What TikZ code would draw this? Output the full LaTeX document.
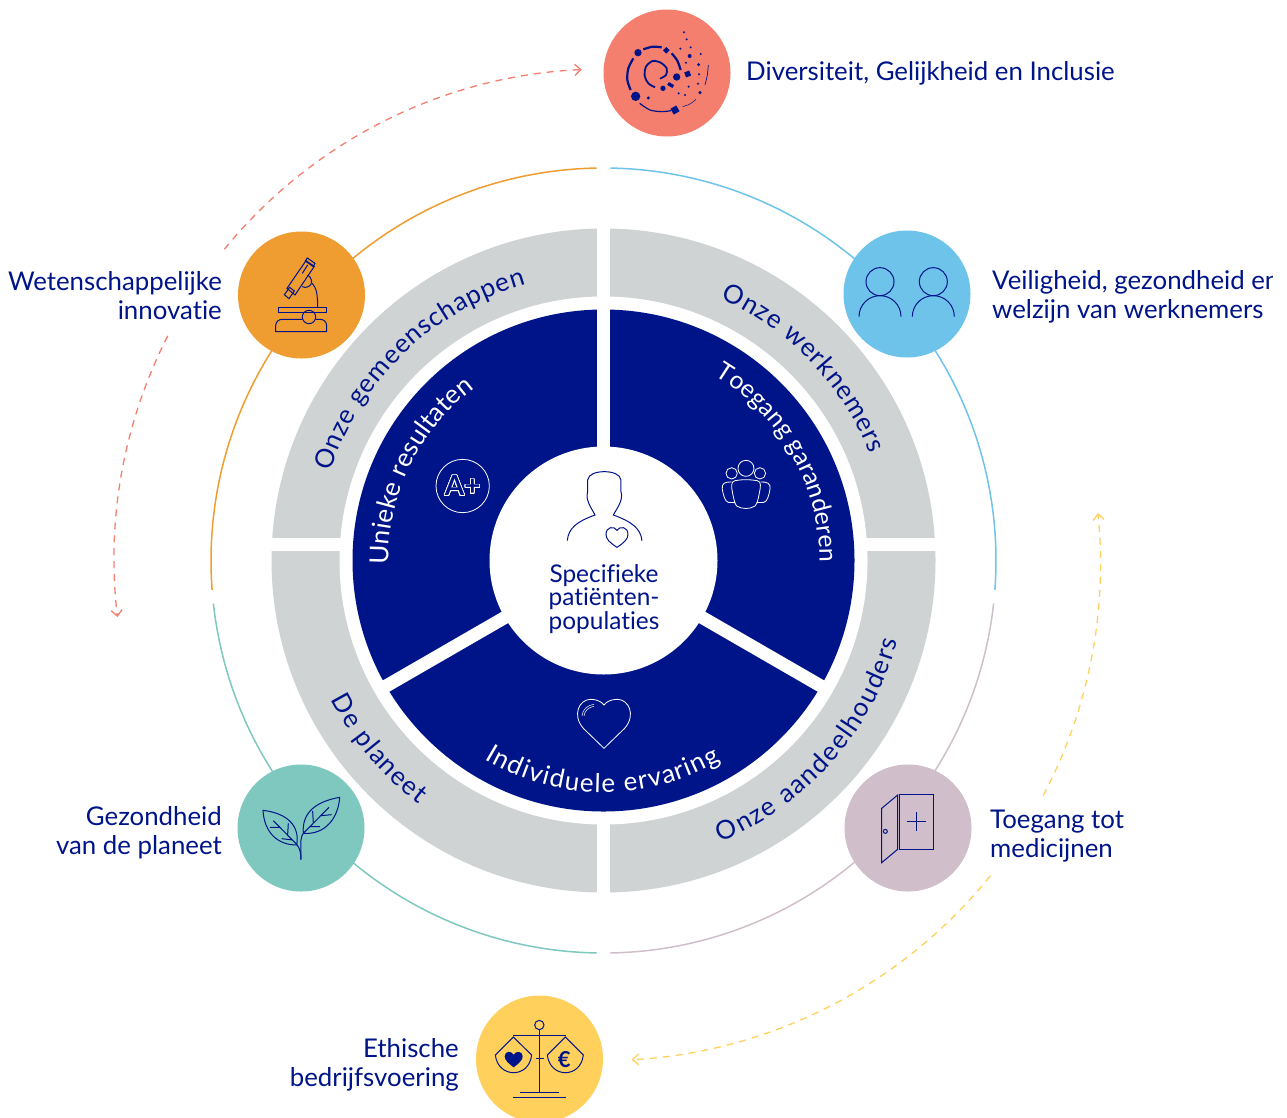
\documentclass[tikz,border=0pt]{standalone}
\usepackage{fontspec}
\setmainfont{Lato}[Ligatures=CommonOff]
\usepackage[copies]{contour}
\usetikzlibrary{arrows.meta,decorations.text}
\definecolor{navy}{HTML}{001489}
\definecolor{ringgrey}{HTML}{D0D3D4}
\definecolor{salmon}{HTML}{F47F6E}
\definecolor{amber}{HTML}{EF9C30}
\definecolor{sky}{HTML}{6EC3EA}
\definecolor{teal}{HTML}{7EC8BF}
\definecolor{mauve}{HTML}{D0BECB}
\definecolor{sun}{HTML}{FFD15C}
\contourlength{.7pt}
\contournumber{32}
\newcommand{\ringfont}{\fontsize{26}{26}\selectfont}
\tikzset{
  >={Straight Barb[length=6pt,width=11pt]},
  zoomed/.style 2 args={shift={(#1,-#2)},x=.3333pt,y=-.3333pt},
}
\tikzstyle{disc}=[circle,minimum size=127pt,inner sep=0pt]
\tikzstyle{lbl}=[text=navy,inner sep=0pt,font=\fontsize{25.8}{29}\selectfont]
\tikzstyle{icon}=[navy,line width=1pt]
\tikzstyle{whiteicon}=[white,line width=.8pt]
\tikzstyle{rim}=[line width=1.5pt]
\tikzstyle{loopline}=[line width=1.3pt,dashed,dash pattern=on 7pt off 6pt]
\tikzstyle{gap}=[white,line width=13pt]

\begin{document}
\begin{tikzpicture}[x=1pt,y=1pt]
  \useasboundingbox (0,0) rectangle (1287,-1117);
  \clip (0,0) rectangle (1272,-1117);
  \coordinate (ctr) at (603.5,-560.5);
  \coordinate (redctr) at (604,-559);
  \coordinate (sunctr) at (604,-564);

  % thin outer ring
  \draw[rim,amber] ([shift={(ctr)}]91:392.5) arc[start angle=91,end angle=184.3,radius=392.5];
  \draw[rim,sky] ([shift={(ctr)}]89:392.5) arc[start angle=89,end angle=-4.3,radius=392.5];
  \draw[rim,teal] ([shift={(ctr)}]186.3:392.5) arc[start angle=186.3,end angle=269,radius=392.5];
  \draw[rim,mauve] ([shift={(ctr)}]271:392.5) arc[start angle=271,end angle=353.7,radius=392.5];

  % dashed loops
  \draw[loopline,salmon,->] ([shift={(redctr)}]140.8:490) arc[start angle=140.8,end angle=92.6,radius=490];
  \draw[loopline,salmon,->] ([shift={(redctr)}]152.9:490) arc[start angle=152.9,end angle=186.8,radius=490];
  \draw[loopline,sun,->] ([shift={(sunctr)}]-27.8:496.5) arc[start angle=-27.8,end angle=5.9,radius=496.5];
  \draw[loopline,sun,->] ([shift={(sunctr)}]-38.9:496.5) arc[start angle=-38.9,end angle=-86.8,radius=496.5];

  % grey ring
  \fill[ringgrey] (ctr) circle (332);
  \draw[gap] (603.5,-220)--(603.5,-900);
  \draw[gap] (260,-544)--(950,-544);
  \fill[white] (ctr) circle (264);

  % blue ring
  \fill[navy] (ctr) circle (251);
  \draw[gap] (ctr)--++(90:260);
  \draw[gap] (ctr)--++(210:260);
  \draw[gap] (ctr)--++(330:260);
  \fill[white] (ctr) circle (114);

  % texts on the rings
  \path[decorate,decoration={text along path,text align={fit to path},
    text={|\ringfont\color{navy}|Onze gemeenschappen}}]
    ([shift={(ctr)}]162:287) arc[start angle=162,end angle=105.7,radius=287];
  \path[decorate,decoration={text along path,text align={fit to path},
    text={|\ringfont\color{navy}|Onze werknemers}}]
    ([shift={(ctr)}]65.9:287) arc[start angle=65.9,end angle=21.8,radius=287];
  \path[decorate,decoration={text along path,text align={fit to path},
    text={|\ringfont\color{navy}|Onze aandeelhouders}}]
    ([shift={(ctr)}]-67.4:305) arc[start angle=-67.4,end angle=-15.2,radius=305];
  \path[decorate,decoration={text along path,text align={fit to path},
    text={|\ringfont\color{navy}|De planeet}}]
    ([shift={(ctr)}]207:306) arc[start angle=207,end angle=232.8,radius=306];
  \path[decorate,decoration={text along path,text align={fit to path},
    text={|\ringfont\color{white}|Unieke resultaten}}]
    ([shift={(ctr)}]181:215) arc[start angle=181,end angle=126.9,radius=215];
  \path[decorate,decoration={text along path,text align={fit to path},
    text={|\fontsize{24.8}{25}\selectfont\color{white}|Toegang garanderen}}]
    ([shift={(ctr)}]59:216) arc[start angle=59,end angle=-.5,radius=216];
  \path[decorate,decoration={text along path,text align={fit to path},
    text={|\ringfont\color{white}|Individuele ervaring}}]
    ([shift={(ctr)}]239:232) arc[start angle=239,end angle=300.4,radius=232];

  % discs and labels
  \node[disc,fill=salmon] (diversity) at (667,-73) {};
  \node[disc,fill=amber] (science) at (301.5,-295) {};
  \node[disc,fill=sky] (workers) at (907,-294) {};
  \node[disc,fill=teal] (planet) at (301,-828) {};
  \node[disc,fill=mauve] (access) at (908,-828) {};
  \node[disc,fill=sun] (ethics) at (539.5,-1059) {};

  \node[lbl,anchor=west] (diversitylbl) at (746,-73) {Diversiteit, Gelijkheid en Inclusie};
  \node[lbl,anchor=east,align=right] (sciencelbl) at (222,-295.5) {Wetenschappelijke\\innovatie};
  \node[lbl,anchor=west,align=left] (workerslbl) at (992,-296.5) {Veiligheid, gezondheid en\\welzijn van werknemers};
  \node[lbl,anchor=east,align=right] (planetlbl) at (222,-832.5) {Gezondheid\\van de planeet};
  \node[lbl,anchor=west,align=left] (accesslbl) at (990,-836.5) {Toegang tot\\medicijnen};
  \node[lbl,anchor=east,align=right] (ethicslbl) at (459,-1064.5) {Ethische\\bedrijfsvoering};
  \node[lbl,align=center,font=\fontsize{24.4}{23.5}\selectfont] (patientlbl) at (604,-599) {Specifieke\\patiënten-\\populaties};

  % diversity icon
  \begin{scope}[zoomed={590}{0},icon]
    \foreach \dx/\dy/\dr in {144/158/11,137/289/14,175/294/5,260/231/11,219/265/8,299/168/6,326/194/5,330/278/5}
      \fill (\dx,\dy) circle (\dr);
    \foreach \dx/\dy in {282/97,290/118,271/146,302/142,332/162,288/188,327/223,296/260,324/251,266/280,285/285}
      \fill (\dx,\dy) circle (3.4);
    \fill[rotate around={30:(255,330)}] (245,320) rectangle (265,340);
    \fill[rotate around={45:(229,151)}] (222,144) rectangle (236,158);
    \fill[rotate around={20:(293,222)}] (285,214) rectangle (301,230);
    \fill[rotate around={-30:(242,255)}] (233,250) rectangle (251,260);
    \draw[line width=2.2pt] plot[smooth] coordinates {(130,175) (115,205) (112,240) (122,270)};
    \draw[line width=2.2pt] plot[smooth] coordinates {(160,148) (188,140) (215,142)};
    \draw[line width=2.2pt] plot[smooth] coordinates {(245,160) (262,182) (272,210)};
    \draw[line width=1.2pt] plot[smooth] coordinates {(149,310) (180,330) (215,335) (243,332)};
    \draw[line width=.5pt] plot[smooth] coordinates {(278,320) (300,312) (318,298)};
    \draw[line width=.7pt] plot[smooth] coordinates {(345,255) (352,225) (355,195)};
    \draw[line width=1.8pt] plot[smooth] coordinates {(210,236) (228,225) (230,205) (212,188) (188,183) (168,200) (164,228) (175,250) (195,262)};
  \end{scope}

  % microscope
  \begin{scope}[zoomed={225}{220},icon]
    \draw (160,262) rectangle (305,279);
    \draw (252,291) circle (20);
    \draw (232,298)--(172,298) .. controls (160,298) and (152,306) .. (152,318)--(152,335)--(305,335)--(305,318) .. controls (305,306) and (297,298) .. (285,298)--(272,298);
    \draw (262,190) .. controls (275,205) and (278,225) .. (278,262);
    \draw (243,122)--(268,139)--(210,225)--(186,205)--cycle;
    \draw (247,114)--(270,130)--(265,140)--(241,123)--cycle;
    \draw (194,202)--(208,213)--(192,236)--(178,224)--cycle;
    \draw (248,165) .. controls (262,172) and (265,195) .. (250,200) .. controls (245,203) and (238,203) .. (232,200);
    \draw (232,160)--(248,135);
  \end{scope}

  % two persons
  \begin{scope}[zoomed={840}{230},icon]
    \foreach \px in {120,280} {
      \draw (\px,155) circle (42);
      \draw (\px-63,260) .. controls (\px-63,225) and (\px-35,197) .. (\px,197)
        .. controls (\px+35,197) and (\px+63,225) .. (\px+63,260);
    }
  \end{scope}

  % leaves
  \begin{scope}[zoomed={225}{755},icon]
    \draw (114,166) .. controls (190,175) and (225,215) .. (215,270) .. controls (160,270) and (118,235) .. (114,166)--cycle;
    \draw (344,127) .. controls (270,140) and (230,175) .. (235,235) .. controls (300,240) and (340,190) .. (344,127)--cycle;
    \draw (228,314)--(228,255) .. controls (228,245) and (232,240) .. (235,235);
    \draw (228,314) .. controls (228,295) and (225,280) .. (215,268);
    \draw (145,197)--(215,268) (135,217)--(165,217) (190,205)--(188,238) (170,251)--(203,255);
    \draw (312,157)--(235,235) (263,168)--(265,205) (320,179)--(288,182) (285,215)--(255,215);
  \end{scope}

  % door
  \begin{scope}[zoomed={835}{755},icon]
    \draw (193,118) rectangle (296,282);
    \draw (140,160)--(188,120)--(188,283)--(140,323)--cycle;
    \draw (151,229) circle (6);
    \draw (216,200)--(272,200) (244,172)--(244,228);
  \end{scope}

  % scale
  \begin{scope}[zoomed={465}{990},icon]
    \draw (223,105) circle (14);
    \draw (145,135)--(302,135) (223,119)--(223,307);
    \draw (165,307)--(282,307) (145,322)--(302,322) (212,205)--(236,205);
    \draw (145,141)--(91,195) .. controls (95,230) and (120,248) .. (146,248) .. controls (172,248) and (196,230) .. (200,195)--cycle;
    \draw (301,141)--(247,195) .. controls (251,230) and (276,248) .. (301,248) .. controls (327,248) and (351,230) .. (355,195)--cycle;
    \fill (146,232) .. controls (130,220) and (119,210) .. (119,199) .. controls (119,182) and (140,182) .. (146,194) .. controls (152,182) and (173,182) .. (173,199) .. controls (173,210) and (162,220) .. (146,232)--cycle;
    \node[navy,inner sep=0pt,font=\bfseries\fontsize{22}{22}\selectfont] (euro) at (298,208) {€};
  \end{scope}

  % icons round the middle
  \begin{scope}[zoomed={420}{450}]
    % patient
    \draw[icon] (442,272) .. controls (445,235) and (470,215) .. (525,195) .. controls (515,175) and (495,150) .. (503,125)
      --(503,90) .. controls (505,72) and (530,65) .. (553,65) .. controls (576,65) and (601,72) .. (603,90)
      --(603,125) .. controls (611,150) and (591,175) .. (580,195) .. controls (635,215) and (662,235) .. (666,272);
    \draw[icon] (591,292) .. controls (570,278) and (558,268) .. (558,253) .. controls (558,230) and (583,227) .. (591,241) .. controls (599,227) and (624,230) .. (624,253) .. controls (624,268) and (612,278) .. (591,292)--cycle;
    % A plus
    \draw[whiteicon] (128,108) circle (80);
    \node[text=navy,inner sep=0pt,font=\bfseries\fontsize{28}{28}\selectfont] (grade) at (128,108) {\contour{white}{A+}};
    % group
    \draw[whiteicon] (978,55) circle (24) (935,70) circle (17) (1020,70) circle (17);
    \draw[whiteicon] (945,92) .. controls (965,88) and (990,88) .. (1012,92) .. controls (1025,95) and (1022,110) .. (1018,130) .. controls (1014,150) and (1012,160) .. (1005,168) .. controls (990,178) and (966,178) .. (950,168) .. controls (944,160) and (942,150) .. (938,130) .. controls (934,110) and (932,95) .. (945,92)--cycle;
    \draw[whiteicon] (935,96) .. controls (915,95) and (904,100) .. (907,118) .. controls (910,135) and (915,155) .. (925,157)--(946,158);
    \draw[whiteicon] (1022,96) .. controls (1042,95) and (1053,100) .. (1050,118) .. controls (1047,135) and (1042,155) .. (1032,157)--(1010,158);
    % big heart
    \draw[whiteicon] (552,895)--(490,835) .. controls (455,795) and (478,748) .. (512,748) .. controls (530,748) and (545,755) .. (552,765) .. controls (559,755) and (574,748) .. (592,748) .. controls (626,748) and (649,795) .. (614,835)--cycle;
    \draw[whiteicon,line width=.5pt] (486,798) .. controls (487,780) and (502,765) .. (522,763);
    \draw[whiteicon,line width=.5pt] (492,798) .. controls (493,784) and (506,771) .. (522,769);
  \end{scope}
\end{tikzpicture}
\end{document}
